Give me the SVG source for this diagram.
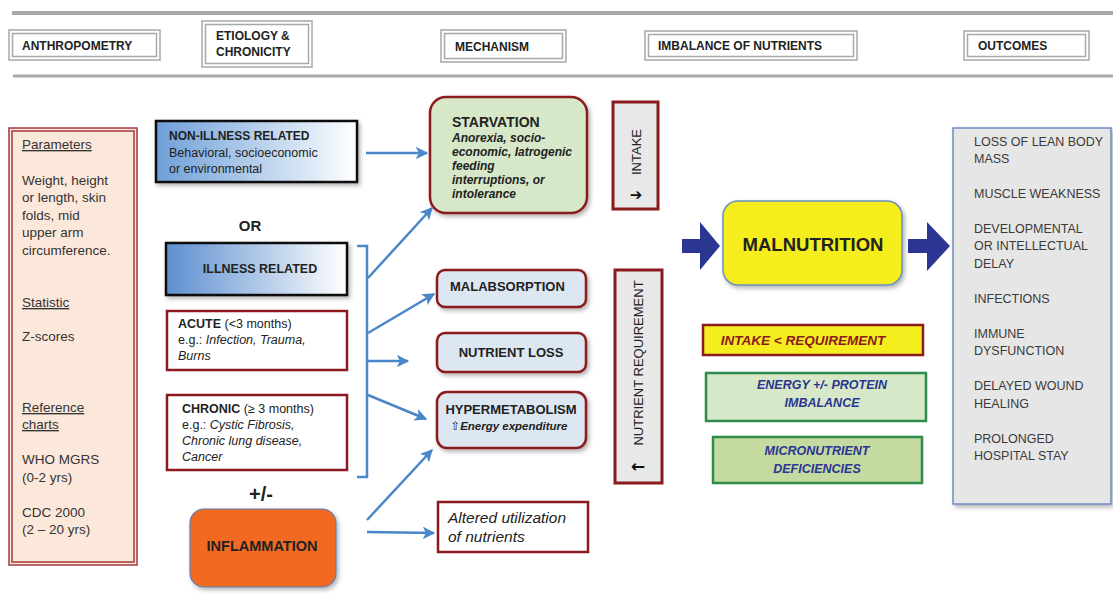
<svg xmlns="http://www.w3.org/2000/svg" width="1113" height="598" viewBox="0 0 1113 598">
<defs>
<style>
text{font-family:"Liberation Sans",Arial,sans-serif;fill:#222}
.hdr{fill:#fff;stroke:#a8a8a8;stroke-width:1.5}
.ht{font-size:12px;font-weight:bold;fill:#222}
.lp{font-size:13.5px;fill:#333}
.u{text-decoration:underline}
.b{font-weight:bold}
.i{font-style:italic}
.red{stroke:#8b1a1f;stroke-width:2.5}
.mech{fill:#dce7f2;stroke:#8b1a1f;stroke-width:2.5}
.mt{font-size:13px;font-weight:bold;fill:#222}
.oc{font-size:12.5px;fill:#3a3a3a}
.conn{stroke:#4a86c8;stroke-width:2.5;fill:none}
.navy{fill:#2b3592}
.gbox{stroke:#2e8b4a;stroke-width:2.5}
.gt{font-size:12.5px;font-weight:bold;font-style:italic;fill:#2b3592}
.sym{font-family:"DejaVu Sans",sans-serif;font-weight:bold;fill:#111}
</style>
<linearGradient id="gblue" x1="0" y1="0" x2="1" y2="0">
<stop offset="0" stop-color="#6e9fd8"/>
<stop offset="1" stop-color="#ffffff"/>
</linearGradient>
<linearGradient id="gblue2" x1="0" y1="0" x2="1" y2="0">
<stop offset="0" stop-color="#5d8fd0"/>
<stop offset="1" stop-color="#ffffff"/>
</linearGradient>
<filter id="sh" x="-10%" y="-10%" width="130%" height="130%">
<feDropShadow dx="2" dy="2.5" stdDeviation="2" flood-color="#000" flood-opacity="0.3"/>
</filter>
<marker id="ah" viewBox="0 0 10 10" refX="9" refY="5" markerWidth="5" markerHeight="5" orient="auto" markerUnits="strokeWidth">
<path d="M0,0 L10,5 L0,10 L2.5,5 z" fill="#4a86c8"/>
</marker>
</defs>
<rect width="1113" height="598" fill="#fff"/>

<g id="header">
<line x1="12" y1="13" x2="1113" y2="13" stroke="#a8a8a8" stroke-width="4"/>
<line x1="13" y1="76" x2="1113" y2="76" stroke="#a8a8a8" stroke-width="3"/>
</g>

<g id="h-anthro">
<rect class="hdr" x="9" y="30" width="151" height="30"/>
<rect class="hdr" x="12.5" y="33.5" width="144" height="23"/>
<text class="ht" x="22" y="49.5">ANTHROPOMETRY</text>
</g>
<g id="h-etiology">
<rect class="hdr" x="202" y="21" width="110" height="46"/>
<rect class="hdr" x="205.5" y="24.5" width="103" height="39"/>
<text class="ht" x="216" y="40">ETIOLOGY &amp;</text>
<text class="ht" x="216" y="56">CHRONICITY</text>
</g>
<g id="h-mechanism">
<rect class="hdr" x="441" y="30" width="125" height="32"/>
<rect class="hdr" x="444.5" y="33.5" width="118" height="25"/>
<text class="ht" x="455" y="50.5">MECHANISM</text>
</g>
<g id="h-imbalance">
<rect class="hdr" x="645" y="31" width="212" height="29"/>
<rect class="hdr" x="648.5" y="34.5" width="205" height="22"/>
<text class="ht" x="658" y="49.5">IMBALANCE  OF NUTRIENTS</text>
</g>
<g id="h-outcomes">
<rect class="hdr" x="964" y="31" width="125" height="29"/>
<rect class="hdr" x="967.5" y="34.5" width="118" height="22"/>
<text class="ht" x="978" y="49.5">OUTCOMES</text>
</g>

<g id="anthropometry">
<rect x="9" y="128" width="128" height="437" fill="#fce8da" stroke="#a3383e" stroke-width="1.5"/>
<rect x="12" y="131" width="122" height="431" fill="none" stroke="#a3383e" stroke-width="1.5"/>
<text class="lp u" x="22" y="149">Parameters</text>
<text class="lp" x="22" y="185">Weight, height</text>
<text class="lp" x="22" y="202">or length, skin</text>
<text class="lp" x="22" y="220">folds, mid</text>
<text class="lp" x="22" y="237">upper arm</text>
<text class="lp" x="22" y="255">circumference.</text>
<text class="lp u" x="22" y="307">Statistic</text>
<text class="lp" x="22" y="341">Z-scores</text>
<text class="lp u" x="22" y="412">Reference</text>
<text class="lp u" x="22" y="429">charts</text>
<text class="lp" x="22" y="464">WHO MGRS</text>
<text class="lp" x="22" y="482">(0-2 yrs)</text>
<text class="lp" x="22" y="517">CDC 2000</text>
<text class="lp" x="22" y="534">(2 – 20 yrs)</text>
</g>

<g id="non-illness">
<rect x="156" y="121" width="201" height="61" fill="url(#gblue)" stroke="#111" stroke-width="2.5" filter="url(#sh)"/>
<text x="169" y="140" font-size="12" class="b">NON-ILLNESS RELATED</text>
<text x="169" y="157" font-size="12.5">Behavioral, socioeconomic</text>
<text x="169" y="173" font-size="12.5">or environmental</text>
</g>
<g id="or">
<text x="250" y="231" font-size="15" class="b" text-anchor="middle">OR</text>
</g>
<g id="illness">
<rect x="166" y="243" width="181" height="52" fill="url(#gblue2)" stroke="#111" stroke-width="2.5" filter="url(#sh)"/>
<text x="260" y="273" font-size="12.5" class="b" text-anchor="middle">ILLNESS RELATED</text>
</g>
<g id="acute">
<rect class="red" x="167" y="311" width="180" height="59" fill="#fff"/>
<text x="178" y="328" font-size="12.5"><tspan class="b">ACUTE</tspan> (&lt;3 months)</text>
<text x="178" y="344" font-size="12.5">e.g.: <tspan class="i">Infection, Trauma,</tspan></text>
<text x="178" y="360" font-size="12.5" class="i">Burns</text>
</g>
<g id="chronic">
<rect class="red" x="167" y="395" width="180" height="75" fill="#fff"/>
<text x="182" y="413" font-size="12.5"><tspan class="b">CHRONIC</tspan> (≥ 3 months)</text>
<text x="182" y="429" font-size="12.5">e.g.: <tspan class="i">Cystic Fibrosis,</tspan></text>
<text x="182" y="445" font-size="12.5" class="i">Chronic lung disease,</text>
<text x="182" y="461" font-size="12.5" class="i">Cancer</text>
</g>
<g id="plusminus">
<text x="261" y="501" font-size="20" class="b" text-anchor="middle">+/-</text>
</g>
<g id="inflammation">
<rect x="190" y="509" width="146" height="78" rx="14" fill="#f26b21" stroke="#5b7fb5" stroke-width="1.2" filter="url(#sh)"/>
<text x="262" y="551" font-size="14.5" class="b" text-anchor="middle">INFLAMMATION</text>
</g>

<g id="starvation">
<rect x="430" y="97" width="157" height="116" rx="16" fill="#d6e8c8" stroke="#8b1a1f" stroke-width="2.5" filter="url(#sh)"/>
<text x="452" y="127" font-size="14" class="b">STARVATION</text>
<text x="452" y="142" font-size="12" class="b i">Anorexia, socio-</text>
<text x="452" y="156" font-size="12" class="b i">economic, Iatrogenic</text>
<text x="452" y="170" font-size="12" class="b i">feeding</text>
<text x="452" y="184" font-size="12" class="b i">interruptions, or</text>
<text x="452" y="198" font-size="12" class="b i">intolerance</text>
</g>
<g id="malabsorption">
<rect class="mech" x="437" y="270" width="149" height="37" rx="8" filter="url(#sh)"/>
<text class="mt" x="450" y="291">MALABSORPTION</text>
</g>
<g id="nutrient-loss">
<rect class="mech" x="437" y="333" width="149" height="39" rx="8" filter="url(#sh)"/>
<text class="mt" x="511" y="357" text-anchor="middle">NUTRIENT LOSS</text>
</g>
<g id="hypermetabolism">
<rect class="mech" x="437" y="392" width="149" height="56" rx="10" filter="url(#sh)"/>
<text class="mt" x="511" y="414" text-anchor="middle">HYPERMETABOLISM</text>
<text x="509" y="430" font-size="11.5" class="b i" text-anchor="middle"><tspan style="font-family:'DejaVu Sans',sans-serif;font-weight:normal;font-style:normal;fill:#222">⇧</tspan>Energy expenditure</text>
</g>
<g id="altered">
<rect class="red" x="438" y="502" width="150" height="50" fill="#fff"/>
<text x="448" y="523" font-size="15.5" class="i">Altered utilization</text>
<text x="448" y="542" font-size="15.5" class="i">of nutrients</text>
</g>

<g id="intake">
<rect x="613" y="102" width="45" height="107" fill="#e8e8e8" stroke="#8b1a1f" stroke-width="3"/>
<text x="0" y="0" font-size="13" text-anchor="middle" transform="translate(641,152) rotate(-90)">INTAKE</text>
<text class="sym" x="636" y="200" font-size="15" text-anchor="middle">➔</text>
</g>
<g id="requirement">
<rect x="615" y="270" width="47" height="213" fill="#e8e8e8" stroke="#8b1a1f" stroke-width="3"/>
<text x="0" y="0" font-size="13" text-anchor="middle" transform="translate(643,363) rotate(-90)">NUTRIENT REQUIREMENT</text>
<text class="sym" x="638" y="472" font-size="17" text-anchor="middle">←</text>
</g>

<g id="malnutrition">
<rect x="723" y="201" width="179" height="84" rx="15" fill="#f5ee1f" stroke="#6a8fc0" stroke-width="1.5" filter="url(#sh)"/>
<text x="813" y="251" font-size="18.5" class="b" text-anchor="middle">MALNUTRITION</text>
</g>

<g id="intake-lt-req">
<rect x="703" y="325" width="220" height="30" fill="#f5ee1f" stroke="#8b1a1f" stroke-width="2.5"/>
<text x="803" y="345" font-size="13.5" class="b i" text-anchor="middle" style="fill:#8b1a1f">INTAKE &lt; REQUIREMENT</text>
</g>
<g id="energy">
<rect class="gbox" x="706" y="373" width="220" height="48" fill="#d6e8c8"/>
<text class="gt" x="822" y="389" text-anchor="middle">ENERGY +/- PROTEIN</text>
<text class="gt" x="822" y="407" text-anchor="middle">IMBALANCE</text>
</g>
<g id="micronutrient">
<rect class="gbox" x="713" y="437" width="209" height="46" fill="#c4daa0"/>
<text class="gt" x="817" y="455" text-anchor="middle">MICRONUTRIENT</text>
<text class="gt" x="817" y="473" text-anchor="middle">DEFICIENCIES</text>
</g>

<g id="outcomes">
<rect x="953" y="128" width="158" height="376" fill="#e6e6e6" stroke="#6a8fc0" stroke-width="1.5" filter="url(#sh)"/>
<text class="oc" x="974" y="146">LOSS OF LEAN BODY</text>
<text class="oc" x="974" y="163">MASS</text>
<text class="oc" x="974" y="198">MUSCLE WEAKNESS</text>
<text class="oc" x="974" y="233">DEVELOPMENTAL</text>
<text class="oc" x="974" y="250">OR INTELLECTUAL</text>
<text class="oc" x="974" y="268">DELAY</text>
<text class="oc" x="974" y="303">INFECTIONS</text>
<text class="oc" x="974" y="338">IMMUNE</text>
<text class="oc" x="974" y="355">DYSFUNCTION</text>
<text class="oc" x="974" y="390">DELAYED WOUND</text>
<text class="oc" x="974" y="408">HEALING</text>
<text class="oc" x="974" y="443">PROLONGED</text>
<text class="oc" x="974" y="460">HOSPITAL STAY</text>
</g>

<g id="connectors">
<line class="conn" x1="366" y1="153" x2="427" y2="153" marker-end="url(#ah)"/>
<polyline class="conn" points="357,246 367,246 367,477 357,477" stroke-width="3"/>
<line class="conn" x1="368" y1="278" x2="432" y2="208" marker-end="url(#ah)"/>
<line class="conn" x1="368" y1="333" x2="434" y2="294" marker-end="url(#ah)"/>
<line class="conn" x1="368" y1="361" x2="408" y2="361" marker-end="url(#ah)"/>
<line class="conn" x1="368" y1="395" x2="426" y2="419" marker-end="url(#ah)"/>
<line class="conn" x1="367" y1="520" x2="432" y2="450" marker-end="url(#ah)"/>
<line class="conn" x1="367" y1="532" x2="434" y2="533" marker-end="url(#ah)"/>
<path class="navy" d="M682,239 L700,239 L700,222 L720,246 L700,270 L700,253 L682,253 z"/>
<path class="navy" d="M908,239 L927,239 L927,222 L950,246 L927,271 L927,253 L908,253 z"/>
</g>
</svg>
